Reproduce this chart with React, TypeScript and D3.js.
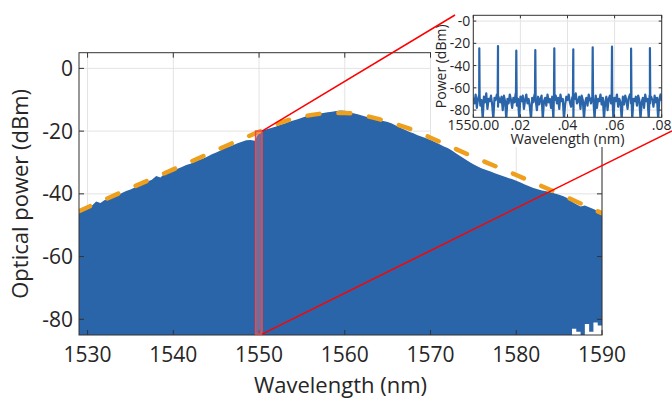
import React from 'react';
import * as d3 from 'd3';

// spectrum top (nm, dBm)
const spectrumTop: [number, number][] = [
  [1529.0, -45.6], [1529.5, -44.6], [1530.0, -44.2], [1530.5, -43.8], [1531.0, -42.4], [1531.5, -42.9],
  [1532.0, -42.0], [1532.5, -41.6], [1533.0, -41.1], [1533.5, -40.5], [1534.0, -39.7], [1534.5, -39.1],
  [1535.0, -38.6], [1535.5, -38.0], [1536.0, -37.5], [1536.5, -36.7], [1537.0, -36.1], [1537.5, -35.5],
  [1538.0, -34.3], [1538.5, -34.8], [1539.0, -33.5], [1539.5, -33.1], [1540.0, -32.6], [1540.5, -32.0],
  [1541.0, -31.4], [1541.5, -30.8], [1542.0, -30.4], [1542.5, -29.8], [1543.0, -29.2], [1543.5, -28.7],
  [1544.0, -28.1], [1544.5, -27.4], [1545.0, -26.8], [1545.5, -26.2], [1546.0, -25.4], [1546.5, -25.0],
  [1547.0, -24.4], [1547.5, -23.9], [1548.0, -23.4], [1548.5, -22.9], [1549.0, -22.8], [1549.5, -23.1],
  [1550.0, -20.3], [1550.5, -19.7], [1551.0, -19.3], [1551.5, -18.9], [1552.0, -18.5], [1552.5, -18.0],
  [1553.0, -17.6], [1553.5, -17.0], [1554.0, -16.6], [1554.5, -16.2], [1555.0, -15.7], [1555.5, -15.3],
  [1556.0, -15.0], [1556.5, -14.7], [1557.0, -14.4], [1557.5, -14.2], [1558.0, -14.0], [1558.5, -13.8],
  [1559.0, -13.6], [1559.5, -13.4], [1560.0, -13.5], [1560.5, -13.9], [1561.0, -14.3], [1561.5, -14.6],
  [1562.0, -15.0], [1562.5, -15.4], [1563.0, -15.7], [1563.5, -16.1], [1564.0, -16.5], [1564.5, -16.8],
  [1565.0, -17.1], [1565.5, -17.6], [1566.0, -18.3], [1566.5, -18.9], [1567.0, -19.6], [1567.5, -20.2],
  [1568.0, -20.7], [1568.5, -21.3], [1569.0, -21.8], [1569.5, -22.3], [1570.0, -22.8], [1570.5, -23.5],
  [1571.0, -24.1], [1571.5, -24.8], [1572.0, -25.4], [1572.5, -26.2], [1573.0, -27.1], [1573.5, -28.0],
  [1574.0, -28.9], [1574.5, -29.8], [1575.0, -30.6], [1575.5, -31.3], [1576.0, -31.9], [1576.5, -32.4],
  [1577.0, -32.9], [1577.5, -33.4], [1578.0, -33.9], [1578.5, -34.4], [1579.0, -34.9], [1579.5, -35.3],
  [1580.0, -35.8], [1580.5, -36.4], [1581.0, -37.0], [1581.5, -37.6], [1582.0, -38.1], [1582.5, -38.5],
  [1583.0, -38.9], [1583.5, -39.2], [1584.0, -39.5], [1584.5, -39.9], [1585.0, -40.3], [1585.5, -40.8],
  [1586.0, -41.4], [1586.5, -42.5], [1587.0, -43.3], [1587.5, -44.0], [1588.0, -43.7], [1588.5, -44.3],
  [1589.0, -44.8], [1589.5, -45.5], [1590.0, -46.1],
];

// where the trace minimum rises above the axis floor (right end)
const spectrumFloor: [number, number][] = [
  [1586.5, -83.0], [1587.0, -84.0], [1588.0, -81.5], [1588.5, -84.0], [1589.0, -81.0], [1589.5, -82.0], [1590.0, -83.0],
];

// orange dashed envelope
const envelope: [number, number][] = [
  [1529, -45.5], [1535, -38.2], [1541, -31.0], [1547, -23.7], [1550, -20.2], [1552, -17.8], [1554, -16.0],
  [1556, -14.9], [1558, -14.3], [1560, -14.2], [1562, -14.9], [1564, -16.2], [1566, -17.8], [1568, -19.7],
  [1570, -22.1], [1575, -28.2], [1580, -34.0], [1585, -40.0], [1590, -46.2],
];

const mainXTicks = [1530, 1540, 1550, 1560, 1570, 1580, 1590];
const mainYTicks = [0, -20, -40, -60, -80];

// inset: comb lines (offset from 1550 nm)
const combNm = [0.00255, 0.01049, 0.01826, 0.02633, 0.0344, 0.04246, 0.0507, 0.0589, 0.067, 0.075];
const combDb = [-24.5, -22.4, -26.6, -26.0, -24.5, -25.4, -23.6, -23.0, -24.8, -24.2];
// noise floor, one value per 0.0005 nm
const noiseDb = [
  -69, -74, -66, -78, -70, -67, -76, -71, -88, -68, -73, -65, -79, -70, -72, -67, -75, -88, -69, -71,
  -66, -77, -70, -73, -68, -80, -67, -72, -88, -70, -74, -66, -71, -78, -69, -73, -65, -76, -70, -88,
  -68, -72, -67, -79, -71, -66, -74, -70, -77, -88, -69, -73, -66, -71, -80, -68, -75, -70, -67, -88,
  -72, -69, -76, -66, -73, -70, -78, -68, -88, -71, -67, -74, -69, -79, -66, -72, -70, -88, -75, -68,
  -71, -66, -73, -77, -69, -88, -70, -65, -74, -72, -68, -79, -67, -71, -88, -73, -69, -76, -66, -70,
  -74, -68, -71, -88, -67, -78, -70, -72, -66, -75, -69, -88, -73, -68, -80, -70, -67, -74, -71, -88,
  -69, -72, -66, -77, -70, -73, -88, -68, -75, -67, -71, -79, -69, -66, -74, -88, -70, -72, -68, -76,
  -67, -71, -88, -73, -69, -78, -66, -72, -70, -88, -74, -68, -71, -77, -67, -73, -69, -88, -70, -66,
  -72,
];
const insetXTicks = [0, 0.02, 0.04, 0.06, 0.08];
const insetXLabels = ['1550.00', '.02', '.04', '.06', '.08'];
const insetYTicks = [0, -20, -40, -60, -80];
const insetYLabels = ['-0', '-20', '-40', '-60', '-80'];

const zoomNm = [1549.6, 1550.35];
const zoomDb = [-20, -84.7];

const BLUE = '#2B65A9';
const ORANGE = '#EE9F1B';
const GRID = '#E3E3E3';
const AX = '#333333';
const TXT = '#262626';
const FONT = "'Open Sans', sans-serif";

export default function App() {
  const W = 672, H = 401;
  const m = { left: 79, right: 602, top: 52.7, bottom: 335 };
  const ins = { left: 473.3, right: 661.7, top: 15.3, bottom: 117.3 };

  const x = d3.scaleLinear().domain([1529, 1590]).range([m.left, m.right]);
  const y = d3.scaleLinear().domain([-85, 5]).range([m.bottom, m.top]);
  const xi = d3.scaleLinear().domain([0, 0.08]).range([ins.left, ins.right]);
  const yi = d3.scaleLinear().domain([-86.5, 5.2]).range([ins.bottom, ins.top]);

  const floorMap = new Map(spectrumFloor.map(d => [d[0], d[1]]));
  const rows = spectrumTop.map(d => ({ nm: d[0], top: d[1], low: floorMap.has(d[0]) ? floorMap.get(d[0])! : -90 }));
  const topArea = d3.area<any>()
    .x(d => x(d.nm))
    .y0(y(-90))
    .y1(d => y(d.top));
  const gapArea = d3.area<any>()
    .x(d => x(d.nm))
    .y0(y(-90))
    .y1(d => y(d.low))
    .curve(d3.curveStepAfter);
  const envLine = d3.line<[number, number]>()
    .x(d => x(d[0]))
    .y(d => y(d[1]))
    .curve(d3.curveMonotoneX);

  // inset trace: noise floor with the comb lines inserted
  const insetPts: [number, number][] = noiseDb.map((v, i) => [i * 0.0005, v]);
  combNm.forEach((c, i) => {
    insetPts.push([c - 0.00015, -67], [c, combDb[i]], [c + 0.00015, -68]);
  });
  insetPts.sort((a, b) => a[0] - b[0]);
  const insetLine = d3.line<[number, number]>().x(d => xi(d[0])).y(d => yi(d[1]));

  const tk = 5, tki = 3;

  return (
    <svg width={W} height={H} style={{ position: 'absolute', left: 0, top: 0, background: '#fff' }} fontFamily={FONT}>
      <defs>
        <clipPath id="mainClip"><rect x={m.left} y={m.top} width={m.right - m.left} height={m.bottom - m.top} /></clipPath>
        <clipPath id="insClip"><rect x={ins.left} y={ins.top} width={ins.right - ins.left} height={ins.bottom - ins.top} /></clipPath>
      </defs>

      {/* main grid */}
      <g stroke={GRID} strokeWidth={1}>
        {mainXTicks.map(t => <line key={'gx' + t} x1={x(t)} x2={x(t)} y1={m.top} y2={m.bottom} />)}
        {mainYTicks.map(t => <line key={'gy' + t} x1={m.left} x2={m.right} y1={y(t)} y2={y(t)} />)}
      </g>

      <g clipPath="url(#mainClip)">
        <path d={topArea(rows) || ''} fill={BLUE} />
        <path d={gapArea(rows.filter(r => r.nm >= 1586)) || ''} fill="#fff" />
        <path d={envLine(envelope) || ''} fill="none" stroke={ORANGE} strokeWidth={4.5} strokeDasharray="12 19" strokeLinecap="round" />
      </g>

      {/* main box + ticks */}
      <g stroke={AX} strokeWidth={1} fill="none">
        <rect x={m.left} y={m.top} width={m.right - m.left} height={m.bottom - m.top} />
        {mainXTicks.map(t => (
          <g key={'tx' + t}>
            <line x1={x(t)} x2={x(t)} y1={m.bottom} y2={m.bottom - tk} />
            <line x1={x(t)} x2={x(t)} y1={m.top} y2={m.top + tk} />
          </g>
        ))}
        {mainYTicks.map(t => (
          <g key={'ty' + t}>
            <line x1={m.left} x2={m.left + tk} y1={y(t)} y2={y(t)} />
            <line x1={m.right} x2={m.right - tk} y1={y(t)} y2={y(t)} />
          </g>
        ))}
      </g>

      <g fill={TXT} fontSize={21}>
        {mainXTicks.map(t => <text key={'lx' + t} x={x(t)} y={362} textAnchor="middle">{t}</text>)}
        {mainYTicks.map(t => <text key={'ly' + t} x={m.left - 6} y={y(t) + 7.5} textAnchor="end">{t}</text>)}
      </g>
      <text x={(m.left + m.right) / 2} y={393} textAnchor="middle" fontSize={22} fill={TXT}>Wavelength (nm)</text>
      <text transform={`translate(28,${(m.top + m.bottom) / 2}) rotate(-90)`} textAnchor="middle" fontSize={22} fill={TXT}>Optical power (dBm)</text>

      {/* inset backdrop */}
      <rect x={431} y={0} width={W - 431} height={134} fill="#fff" />
      <rect x={466} y={133} width={W - 466} height={14} fill="#fff" />
      <g stroke={GRID} strokeWidth={1}>
        {insetXTicks.map(t => <line key={'igx' + t} x1={xi(t)} x2={xi(t)} y1={ins.top} y2={ins.bottom} />)}
        {insetYTicks.map(t => <line key={'igy' + t} x1={ins.left} x2={ins.right} y1={yi(t)} y2={yi(t)} />)}
      </g>
      <g clipPath="url(#insClip)">
        <path d={insetLine(insetPts) || ''} fill="none" stroke={BLUE} strokeWidth={2.2} strokeLinejoin="round" />
      </g>
      <g stroke={AX} strokeWidth={1} fill="none">
        <rect x={ins.left} y={ins.top} width={ins.right - ins.left} height={ins.bottom - ins.top} />
        {insetXTicks.map(t => (
          <g key={'itx' + t}>
            <line x1={xi(t)} x2={xi(t)} y1={ins.bottom} y2={ins.bottom - tki} />
            <line x1={xi(t)} x2={xi(t)} y1={ins.top} y2={ins.top + tki} />
          </g>
        ))}
        {insetYTicks.map(t => (
          <g key={'ity' + t}>
            <line x1={ins.left} x2={ins.left + tki} y1={yi(t)} y2={yi(t)} />
            <line x1={ins.right} x2={ins.right - tki} y1={yi(t)} y2={yi(t)} />
          </g>
        ))}
      </g>
      <g fill={TXT} fontSize={14}>
        {insetXTicks.map((t, i) => <text key={'ilx' + t} x={xi(t)} y={129.5} textAnchor="middle">{insetXLabels[i]}</text>)}
        {insetYTicks.map((t, i) => <text key={'ily' + t} x={ins.left - 3} y={yi(t) + 5} textAnchor="end">{insetYLabels[i]}</text>)}
      </g>
      <text x={(ins.left + ins.right) / 2} y={144} textAnchor="middle" fontSize={14.5} fill={TXT}>Wavelength (nm)</text>
      <text transform={`translate(446,${(ins.top + ins.bottom) / 2}) rotate(-90)`} textAnchor="middle" fontSize={14} fill={TXT}>Power (dBm)</text>

      {/* zoom marker */}
      <rect x={x(zoomNm[0])} y={y(zoomDb[0])} width={x(zoomNm[1]) - x(zoomNm[0])} height={y(zoomDb[1]) - y(zoomDb[0])}
        fill="rgba(255,120,120,0.35)" stroke="#F04848" strokeWidth={1.5} />
      <line x1={x(zoomNm[1])} y1={y(zoomDb[0])} x2={455} y2={15} stroke="#FF0000" strokeWidth={1.5} />
      <line x1={x(zoomNm[1])} y1={y(zoomDb[1])} x2={672} y2={131} stroke="#FF0000" strokeWidth={1.5} />
    </svg>
  );
}
